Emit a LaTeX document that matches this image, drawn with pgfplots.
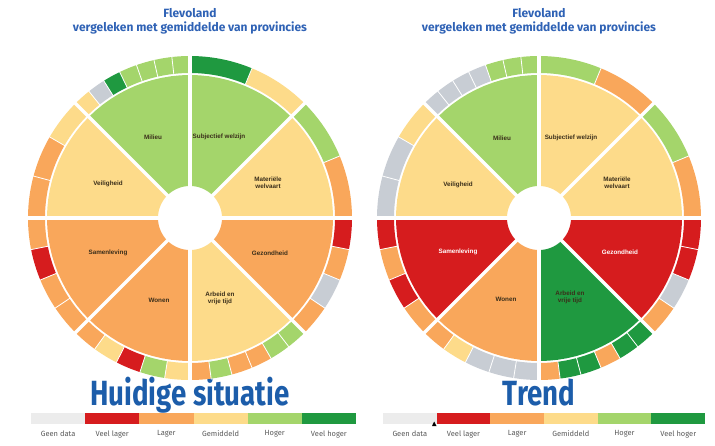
\documentclass[border=0pt]{standalone}
\usepackage{pgfplots}
\pgfplotsset{compat=1.18}
\usepackage{graphicx}
\usepackage{fontspec}
\setmainfont{Fira Sans}
\newfontfamily\lblfont{Liberation Sans}
\definecolor{cat0}{HTML}{C8CDD4}
\definecolor{cat1}{HTML}{D61C1E}
\definecolor{cat2}{HTML}{F9A75B}
\definecolor{cat3}{HTML}{FDDB8A}
\definecolor{cat4}{HTML}{A4D56B}
\definecolor{cat5}{HTML}{1F9940}
\definecolor{leg0}{HTML}{ECECEC}
\definecolor{titleblue}{HTML}{2F62B5}
\definecolor{bigblue}{HTML}{1C5DAA}
\definecolor{lbl}{HTML}{3A2E1A}
\definecolor{leglbl}{HTML}{5A5A5A}

% annular sector: start angle, end angle, inner r, outer r, colour
\newcommand\annseg[5]{%
  \pgfmathsetmacro\segstep{(#2-(#1))/12}%
  \gdef\segpts{}%
  \foreach \k in {0,...,12}{%
    \pgfmathsetmacro\segang{#1+\k*\segstep}%
    \xdef\segpts{\segpts(\segang,#4)}%
  }%
  \foreach \k in {12,...,0}{%
    \pgfmathsetmacro\segang{#1+\k*\segstep}%
    \xdef\segpts{\segpts(\segang,#3)}%
  }%
  \edef\segtmp{\noexpand\addplot[data cs=polar, fill=#5, draw=none, forget plot] coordinates {\segpts};}%
  \segtmp
}
% ring of one sector: start angle, list of categories (counter-clockwise)
\newcommand\ringsector[2]{%
  \gdef\nseg{0}%
  \foreach \c in {#2}{\xdef\nseg{\the\numexpr\nseg+1\relax}}%
  \pgfmathsetmacro\segw{45/\nseg}%
  \foreach \c [count=\i from 0] in {#2}{%
    \pgfmathsetmacro\aa{#1+\i*\segw}%
    \pgfmathsetmacro\ab{#1+(\i+1)*\segw}%
    \annseg{\aa}{\ab}{145}{162}{cat\c}%
  }%
  \foreach \c [count=\i from 1] in {#2}{%
    \ifnum\i<\nseg
      \pgfmathsetmacro\aa{#1+\i*\segw}%
      \edef\segtmp{\noexpand\addplot[data cs=polar, draw=white, line width=0.8pt, forget plot] coordinates {(\aa,144)(\aa,163)};}%
      \segtmp
    \fi
  }%
}
\newcommand\wedges[1]{% list of 8 categories, sectors starting at 0,45,...
  \foreach \c [count=\i from 0] in {#1}{%
    \pgfmathsetmacro\aa{\i*45}%
    \pgfmathsetmacro\ab{\i*45+45}%
    \annseg{\aa}{\ab}{32}{143}{cat\c}%
  }%
}
\newcommand\separators{%
  \foreach \a in {0,45,...,315}{%
    \edef\segtmp{\noexpand\addplot[data cs=polar, draw=white, line width=3.4pt, forget plot] coordinates {(\a,0)(\a,165)};}%
    \segtmp
  }%
}
\newcommand\legbar[3]{\addplot[fill=#3, draw=none, forget plot] coordinates {(#1,21) (#2,21) (#2,32) (#1,32)};}
\newcommand\leglab[2]{\node[font=\fontsize{7.5}{9}\selectfont, text=leglbl] at (axis cs:#1,11) {#2};}

\tikzset{wl/.style={font=\lblfont\bfseries\fontsize{6.3}{7}\selectfont, text=lbl, align=center, inner sep=0pt}}
\pgfplotsset{wheel/.style={anchor=center, scale only axis, width=330pt, height=330pt,
  xmin=-165, xmax=165, ymin=-165, ymax=165, hide axis, clip=false}}

\begin{document}
\begin{tikzpicture}
\useasboundingbox (0pt,0pt) rectangle (715pt,445pt);
% ---------- frame axis: titles and legends ----------
\begin{axis}[at={(0pt,0pt)}, anchor=south west, scale only axis, width=715pt, height=445pt,
  xmin=0, xmax=715, ymin=0, ymax=445, hide axis, clip=false]
  \legbar{31}{85.2}{leg0}
  \legbar{85.2}{139.3}{cat1}
  \legbar{139.3}{193.5}{cat2}
  \legbar{193.5}{247.7}{cat3}
  \legbar{247.7}{301.8}{cat4}
  \legbar{301.8}{356}{cat5}
  \legbar{383}{436.7}{leg0}
  \legbar{436.7}{490.3}{cat1}
  \legbar{490.3}{544}{cat2}
  \legbar{544}{597.7}{cat3}
  \legbar{597.7}{651.3}{cat4}
  \legbar{651.3}{705}{cat5}
  \addplot[fill=black, draw=none, forget plot] coordinates {(432,19) (436.5,19) (434.2,23.5)};
  \leglab{58.1}{Geen data}
  \leglab{112.2}{Veel lager}
  \leglab{166.4}{Lager}
  \leglab{220.6}{Gemiddeld}
  \leglab{274.7}{Hoger}
  \leglab{328.9}{Veel hoger}
  \leglab{409.8}{Geen data}
  \leglab{463.5}{Veel lager}
  \leglab{517.2}{Lager}
  \leglab{570.8}{Gemiddeld}
  \leglab{624.5}{Hoger}
  \leglab{678.2}{Veel hoger}
  \node[font=\bfseries\fontsize{12}{14}\selectfont, text=titleblue, align=center] at (axis cs:190,424) {Flevoland\\vergeleken met gemiddelde van provincies};
  \node[font=\bfseries\fontsize{12}{14}\selectfont, text=titleblue, align=center] at (axis cs:539,424) {Flevoland\\vergeleken met gemiddelde van provincies};
  \node[text=bigblue, anchor=base, inner sep=0pt] at (axis cs:190,40) {\scalebox{0.79}[1]{\fontsize{35}{40}\selectfont\bfseries Huidige situatie}};
  \node[text=bigblue, anchor=base, inner sep=0pt] at (axis cs:539,40) {\scalebox{0.79}[1]{\fontsize{35}{40}\selectfont\bfseries Trend}};
\end{axis}
% ---------- left wheel: Huidige situatie ----------
\begin{axis}[wheel, at={(190pt,227pt)}]
  \wedges{3,4,4,3,2,2,3,2}
  \ringsector{0}{2,4}
  \ringsector{45}{3,5}
  \ringsector{90}{4,4,4,4,5,0,3}
  \ringsector{135}{3,2,2}
  \ringsector{180}{2,1,2,2}
  \ringsector{225}{2,3,1,4,3}
  \ringsector{270}{2,4,2,2,4,4}
  \ringsector{315}{2,0,2,1}
  \separators
  \node[wl] at (axis cs:-37,81) {Milieu};
  \node[wl] at (axis cs:29,81) {Subjectief welzijn};
  \node[wl] at (axis cs:-82,34) {Veiligheid};
  \node[wl] at (axis cs:78,35) {Materiële\\welvaart};
  \node[wl] at (axis cs:-82,-35) {Samenleving};
  \node[wl] at (axis cs:-31,-82) {Wonen};
  \node[wl] at (axis cs:30,-80) {Arbeid en\\vrije tijd};
  \node[wl] at (axis cs:80,-35) {Gezondheid};
\end{axis}
% ---------- right wheel: Trend ----------
\begin{axis}[wheel, at={(539pt,227pt)}]
  \wedges{3,3,4,3,1,2,5,1}
  \ringsector{0}{2,4}
  \ringsector{45}{2,4}
  \ringsector{90}{4,4,4,0,0,0,0}
  \ringsector{135}{3,0,0}
  \ringsector{180}{1,2,1,2}
  \ringsector{225}{2,3,0,0,0}
  \ringsector{270}{2,5,5,2,5,5}
  \ringsector{315}{2,0,1,1}
  \separators
  \node[wl] at (axis cs:-37,80) {Milieu};
  \node[wl] at (axis cs:32,80) {Subjectief welzijn};
  \node[wl] at (axis cs:-81,33) {Veiligheid};
  \node[wl] at (axis cs:78,35) {Materiële\\welvaart};
  \node[wl, text=white] at (axis cs:-81,-34) {Samenleving};
  \node[wl] at (axis cs:-33,-81) {Wonen};
  \node[wl] at (axis cs:31,-79) {Arbeid en\\vrije tijd};
  \node[wl, text=white] at (axis cs:81,-34) {Gezondheid};
\end{axis}
\end{tikzpicture}
\end{document}
